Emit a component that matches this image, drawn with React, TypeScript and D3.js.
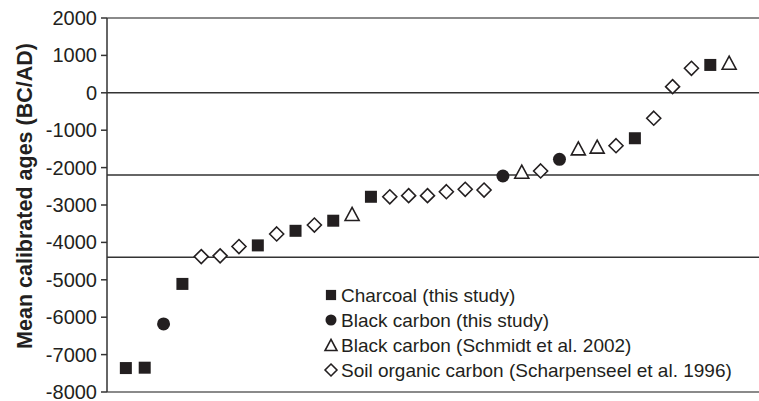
import * as d3 from "d3";

// sample type of each point, in rank order (C = charcoal, B = black carbon this study,
// T = black carbon Schmidt 2002, S = soil organic carbon Scharpenseel 1996)
const sampleType = [
  "C", "C", "B", "C", "S", "S", "S", "C", "S", "C", "S", "C", "T", "C", "S", "S", "S",
  "S", "S", "S", "B", "T", "S", "B", "T", "T", "S", "C", "S", "S", "S", "C", "T",
];
const meanAge = [
  -7360, -7350, -6180, -5110, -4380, -4360, -4110, -4080, -3775, -3690, -3535, -3420,
  -3240, -2780, -2780, -2750, -2750, -2645, -2580, -2600, -2225, -2110, -2090, -1780,
  -1485, -1440, -1415, -1215, -680, 165, 655, 745, 805,
];
const refLines = [0, -2200, -4400];
const yTicks = [2000, 1000, 0, -1000, -2000, -3000, -4000, -5000, -6000, -7000, -8000];
const legendItems = [
  { type: "C", label: "Charcoal (this study)" },
  { type: "B", label: "Black carbon (this study)" },
  { type: "T", label: "Black carbon (Schmidt et al. 2002)" },
  { type: "S", label: "Soil organic carbon (Scharpenseel et al. 1996)" },
];

const W = 759;
const H = 401;
const left = 107;
const right = 748;
const top = 18;
const bottom = 392;
const ink = "#231f20";
const font = "Arial, 'Liberation Sans', Helvetica, sans-serif";

function Marker({ type, x, y, s = 1 }: { type: string; x: number; y: number; s?: number }) {
  if (type === "C") {
    const a = 12 * s;
    return <rect x={x - a / 2} y={y - a / 2} width={a} height={a} fill={ink} />;
  }
  if (type === "B") {
    return <circle cx={x} cy={y} r={6.5 * s} fill={ink} />;
  }
  if (type === "T") {
    const w = 7 * s;
    const h = 13 * s;
    return (
      <path
        d={`M${x},${y - h / 2}L${x + w},${y + h / 2}L${x - w},${y + h / 2}Z`}
        fill="#fff"
        stroke={ink}
        strokeWidth={1.6}
      />
    );
  }
  const r = 7 * s;
  return (
    <path
      d={`M${x},${y - r}L${x + r},${y}L${x},${y + r}L${x - r},${y}Z`}
      fill="#fff"
      stroke={ink}
      strokeWidth={1.6}
    />
  );
}

export default function App() {
  const x = d3
    .scalePoint<number>()
    .domain(meanAge.map((_, i) => i))
    .range([left, right])
    .padding(1);
  const y = d3.scaleLinear().domain([-8000, 2000]).range([bottom, top]);

  return (
    <svg
      width={W}
      height={H}
      style={{ position: "absolute", left: 0, top: 0, background: "#fff" }}
      fontFamily={font}
    >
      {/* frame lines */}
      <line x1={left} x2={W} y1={top} y2={top} stroke="#8a8a8a" strokeWidth={2} />
      <line x1={left} x2={W} y1={bottom} y2={bottom} stroke="#8a8a8a" strokeWidth={2} />
      {refLines.map((v) => (
        <line key={v} x1={left} x2={W} y1={y(v)} y2={y(v)} stroke="#333" strokeWidth={1.5} />
      ))}
      {/* y axis */}
      <line x1={left} x2={left} y1={top} y2={bottom} stroke="#333" strokeWidth={1.5} />
      {yTicks.map((t) => (
        <g key={t}>
          <line x1={left - 6} x2={left} y1={y(t)} y2={y(t)} stroke="#333" strokeWidth={1.5} />
          <text x={left - 10} y={y(t) + 7} textAnchor="end" fontSize={20} fill={ink}>
            {t}
          </text>
        </g>
      ))}
      <text
        transform={`translate(32,196) rotate(-90)`}
        textAnchor="middle"
        fontSize={21.5}
        fontWeight="bold"
        fill={ink}
      >
        Mean calibrated ages (BC/AD)
      </text>
      {/* points */}
      {meanAge.map((v, i) => (
        <Marker key={i} type={sampleType[i]} x={x(i)!} y={y(v)} />
      ))}
      {/* legend */}
      {legendItems.map((d, i) => (
        <g key={d.type} transform={`translate(0,${295 + i * 25})`}>
          <Marker type={d.type} x={331} y={0} s={0.85} />
          <text x={341} y={6.5} fontSize={19} fill={ink}>
            {d.label}
          </text>
        </g>
      ))}
    </svg>
  );
}
